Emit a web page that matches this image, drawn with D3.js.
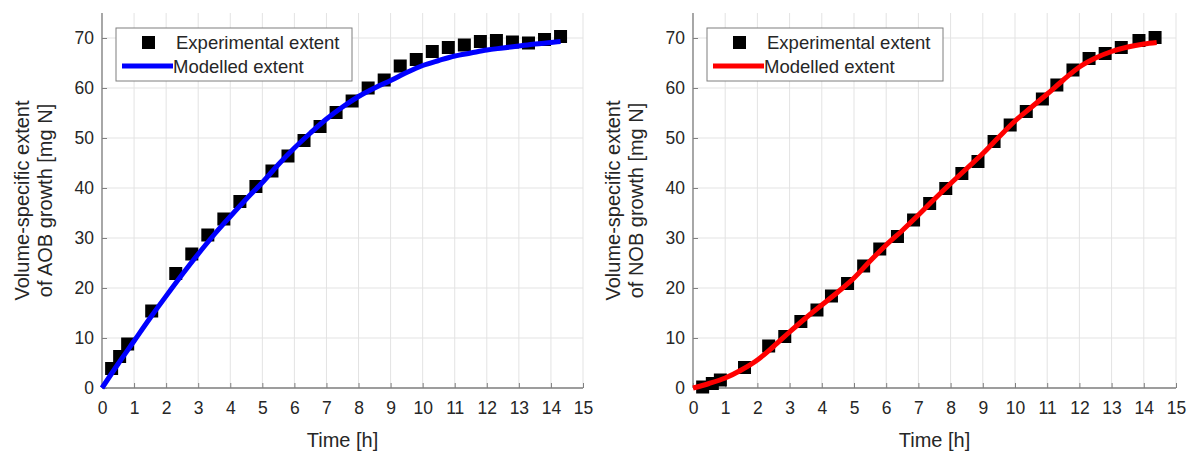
<!DOCTYPE html>
<html><head><meta charset="utf-8">
<script src="https://cdn.jsdelivr.net/npm/d3@7"></script>
<style>
body{margin:0;background:#fff;}
text{font-family:"Liberation Sans",Arial,sans-serif;fill:#262626;}
</style></head>
<body><svg id="c" width="1190" height="452"></svg>
<script>
// AOB panel data
const aobTime = [0.3,0.55,0.8,1.55,2.3,2.8,3.3,3.8,4.3,4.8,5.3,5.8,6.3,6.8,7.3,7.8,8.3,8.8,9.3,9.8,10.3,10.8,11.3,11.8,12.3,12.8,13.3,13.8,14.3];
const aobExp  = [3.9,6.3,8.8,15.4,22.9,26.8,30.6,33.8,37.3,40.3,43.4,46.4,49.5,52.3,55.1,57.4,60.0,61.6,64.4,65.7,67.3,68.1,68.6,69.3,69.5,69.2,69.0,69.7,70.3];
const aobModelTime = [0,0.5,1,1.5,2,2.5,3,3.5,4,4.5,5,5.5,6,6.5,7,7.5,8,8.5,9,9.5,10,10.5,11,11.5,12,12.5,13,13.5,14,14.3];
const aobModel = [0,4.8,9.4,14.0,18.4,22.7,26.8,30.7,34.3,37.8,41.1,44.7,48.0,51.0,53.8,56.2,58.3,60.0,61.5,63.1,64.5,65.5,66.4,67.0,67.6,68.0,68.4,68.8,69.1,69.3];
// NOB panel data
const nobTime = [0.3,0.6,0.85,1.6,2.35,2.85,3.35,3.85,4.3,4.8,5.3,5.8,6.35,6.85,7.35,7.85,8.35,8.85,9.35,9.85,10.35,10.85,11.3,11.8,12.3,12.8,13.3,13.85,14.35];
const nobExp  = [0.2,0.9,1.6,4.1,8.4,10.3,13.3,15.6,18.4,20.9,24.4,27.8,30.3,33.6,36.9,39.9,42.9,45.3,49.3,52.6,55.3,57.8,60.6,63.6,65.9,66.9,68.1,69.5,70.1];
const nobModelTime = [0,0.5,1,1.5,2,2.5,3,3.5,4,4.5,5,5.5,6,6.5,7,7.5,8,8.5,9,9.5,10,10.5,11,11.5,12,12.5,13,13.5,14,14.4];
const nobModel = [0,0.9,2.0,3.6,5.6,8.3,11.2,14.0,16.6,19.2,22.0,25.4,28.6,31.5,34.6,37.8,40.9,43.9,46.9,50.2,53.4,56.1,58.8,61.6,64.2,66.0,67.3,68.2,68.8,69.1];
const xTicks = [0,1,2,3,4,5,6,7,8,9,10,11,12,13,14,15];
const yTicks = [0,10,20,30,40,50,60,70];
const legendLabels = ["Experimental extent","Modelled extent"];

const svg = d3.select("#c");
const panels = [
  {x0:102, x1:583, t:aobTime, e:aobExp, mt:aobModelTime, m:aobModel, color:"#0000ff", ylab:["Volume-specific extent","of AOB growth [mg N]"]},
  {x0:693, x1:1176, t:nobTime, e:nobExp, mt:nobModelTime, m:nobModel, color:"#ff0000", ylab:["Volume-specific extent","of NOB growth [mg N]"]}
];
const yTop = 13, yBot = 388;

panels.forEach(p => {
  const x = d3.scaleLinear().domain([0,15]).range([p.x0,p.x1]);
  const y = d3.scaleLinear().domain([0,75]).range([yBot,yTop]);
  const g = svg.append("g");
  g.selectAll(".gx").data(xTicks).enter().append("line")
    .attr("x1",d=>x(d)).attr("x2",d=>x(d)).attr("y1",yTop).attr("y2",yBot)
    .attr("stroke","#e3e3e3").attr("stroke-width",1);
  g.selectAll(".gy").data(yTicks).enter().append("line")
    .attr("x1",p.x0).attr("x2",p.x1).attr("y1",d=>y(d)).attr("y2",d=>y(d))
    .attr("stroke","#e3e3e3").attr("stroke-width",1);
  const ax = g.append("g").attr("transform",`translate(0,${yBot})`)
    .call(d3.axisBottom(x).tickValues(xTicks).tickSize(-5).tickPadding(14).tickFormat(d3.format("d")));
  const ay = g.append("g").attr("transform",`translate(${p.x0},0)`)
    .call(d3.axisLeft(y).tickValues(yTicks).tickSize(-5).tickPadding(8).tickFormat(d3.format("d")));
  [ax,ay].forEach(a=>{
    a.select(".domain").attr("stroke","#808080").attr("stroke-width",1.3);
    a.selectAll(".tick line").attr("stroke","#808080");
    a.selectAll(".tick text").attr("font-size",17.5).attr("fill","#262626")
      .style("font-family","'Liberation Sans',Arial,sans-serif");
  });
  ay.select(".domain").attr("d",`M0,${yBot}V${yTop}`);
  ax.select(".domain").attr("d",`M${p.x0},0H${p.x1}`);
  g.selectAll(".m").data(p.t.map((t,i)=>[t,p.e[i]])).enter().append("rect")
    .attr("x",d=>x(d[0])-6.5).attr("y",d=>y(d[1])-6.5).attr("width",13).attr("height",13)
    .attr("fill","#000");
  const line = d3.line().x(d=>x(d[0])).y(d=>y(d[1])).curve(d3.curveMonotoneX);
  g.append("path").datum(p.mt.map((t,i)=>[t,p.m[i]]))
    .attr("d",line).attr("fill","none").attr("stroke",p.color).attr("stroke-width",5);
  g.append("text").attr("x",(p.x0+p.x1)/2).attr("y",447).attr("text-anchor","middle")
    .attr("font-size",20).text("Time [h]");
  const cy = (yTop+yBot)/2;
  g.append("text").attr("transform",`translate(${p.x0-73},${cy}) rotate(-90)`)
    .attr("text-anchor","middle").attr("font-size",20).text(p.ylab[0]);
  g.append("text").attr("transform",`translate(${p.x0-50},${cy}) rotate(-90)`)
    .attr("text-anchor","middle").attr("font-size",20).text(p.ylab[1]);
  const lx = p.x0+14, ly = 28;
  g.append("rect").attr("x",lx).attr("y",ly).attr("width",236).attr("height",53)
    .attr("fill","#fff").attr("stroke","#7f7f7f").attr("stroke-width",1);
  g.append("rect").attr("x",lx+26).attr("y",ly+8).attr("width",13).attr("height",13).attr("fill","#000");
  g.append("text").attr("x",lx+60).attr("y",ly+21).attr("font-size",18.5).text(legendLabels[0]);
  g.append("line").attr("x1",lx+6).attr("x2",lx+57).attr("y1",ly+38).attr("y2",ly+38)
    .attr("stroke",p.color).attr("stroke-width",5);
  g.append("text").attr("x",lx+57).attr("y",ly+45).attr("font-size",18.5).text(legendLabels[1]);
});
</script></body></html>
